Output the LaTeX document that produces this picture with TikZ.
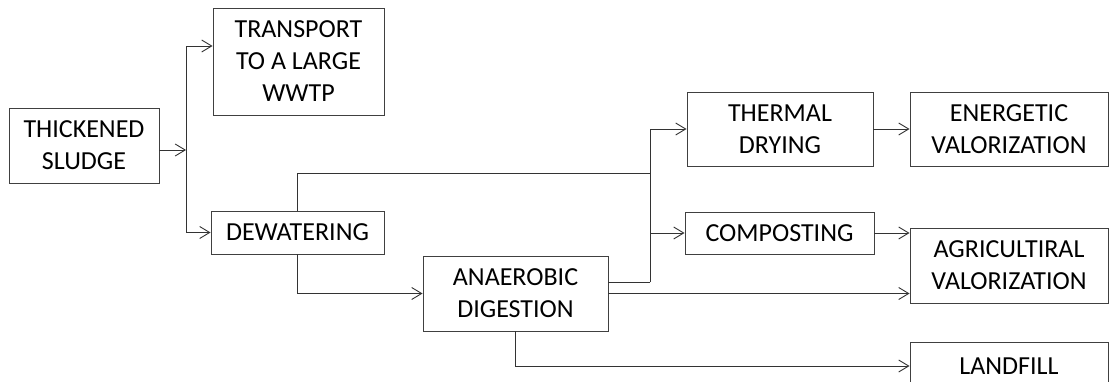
\documentclass[tikz,border=0pt]{standalone}
\usepackage{fontspec}
\setmainfont{Carlito}
\usetikzlibrary{arrows.meta}

\begin{document}
\begin{tikzpicture}[x=1pt,y=-1pt,
   box/.style={draw=black!75,line width=0.9pt,align=center,inner sep=0pt,
      font=\fontsize{26}{32}\selectfont},
   flow/.style={draw=black!80,line width=0.9pt},
   arr/.style={flow,-{Straight Barb[length=10pt,width=12pt]}}]
   \useasboundingbox (0,0) rectangle (1110,382);
   \clip (0,0) rectangle (1110,382);

   % Boxes
   \node[box,minimum width=150pt,minimum height=75pt] (sludge) at (84,145.5) {THICKENED\\SLUDGE};
   \node[box,minimum width=171pt,minimum height=107pt] (transport) at (298.5,61.5) {TRANSPORT\\TO A LARGE\\WWTP};
   \node[box,minimum width=173pt,minimum height=43pt] (dewater) at (297.5,232.5) {DEWATERING};
   \node[box,minimum width=185pt,minimum height=75pt] (anaerobic) at (515.5,293.5) {ANAEROBIC\\DIGESTION};
   \node[box,minimum width=186pt,minimum height=74pt] (thermal) at (780,129) {THERMAL\\DRYING};
   \node[box,minimum width=198pt,minimum height=74pt] (energetic) at (1009,129) {ENERGETIC\\VALORIZATION};
   \node[box,minimum width=189pt,minimum height=42pt] (composting) at (779.5,233) {COMPOSTING};
   \node[box,minimum width=198pt,minimum height=75pt] (agri) at (1009,265.5) {AGRICULTIRAL\\VALORIZATION};
   \node[box,minimum width=198pt,minimum height=48pt] (landfill) at (1009,366) {LANDFILL};

   % Junctions
   \coordinate (split) at (186,150);
   \coordinate (dryjoin) at (650,173);
   \coordinate (digout) at (650,282);

   % Sludge line
   \draw[arr] (sludge.east |- split) -- (split);
   \draw[arr] (split) |- ([yshift=15.5pt]transport.west);
   \draw[arr] (split) |- (dewater.west);
   \draw[flow] (dewater.north) |- (dryjoin);
   \draw[arr] (dewater.south) |- (anaerobic.west);

   % Digested sludge
   \draw[flow] (anaerobic.east |- digout) -- (digout);
   \draw[arr] (digout) |- (thermal.west);
   \draw[arr] (digout) |- (composting.west);
   \draw[arr] (anaerobic.east) -- (anaerobic.east -| agri.west);
   \draw[arr] (anaerobic.south) |- (landfill.west);

   % End uses
   \draw[arr] (thermal.east) -- (energetic.west);
   \draw[arr] (composting.east) -- (composting.east -| agri.west);
\end{tikzpicture}
\end{document}
